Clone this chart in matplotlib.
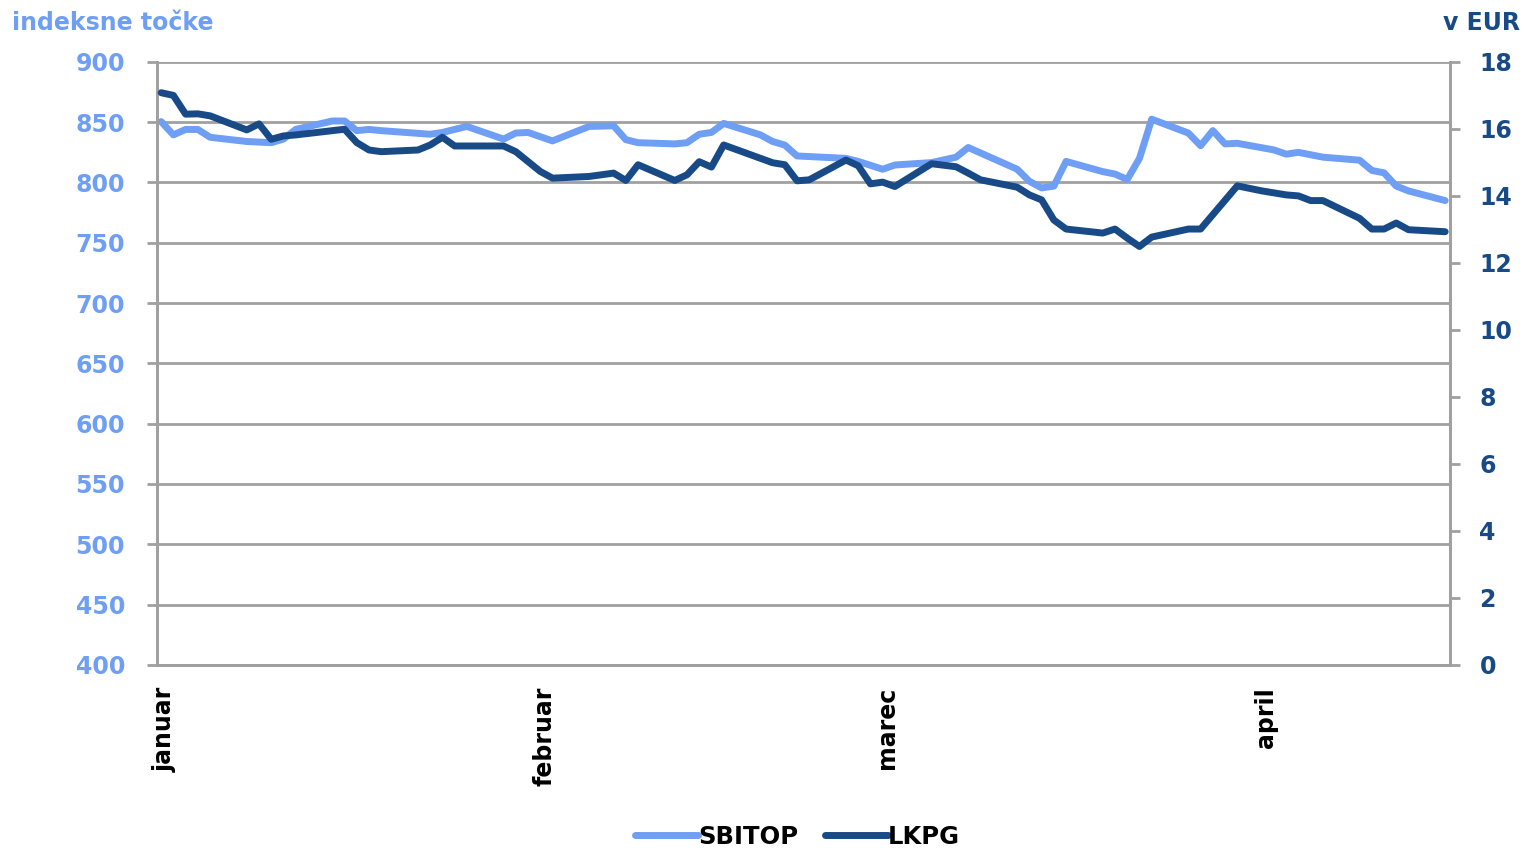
import matplotlib.pyplot as plt
import matplotlib.transforms as mtransforms
import pandas as pd

# Colours
SBITOP_COLOR = '#6F9EF5'
LKPG_COLOR = '#174A87'
GRID_COLOR = '#A0A0A0'

YEAR = '2011'

# SBITOP (left axis, index points)
sbitop_dates = ['01-01', '01-02', '01-03', '01-04', '01-05', '01-08', '01-10', '01-11',
                '01-12', '01-15', '01-16', '01-17', '01-18', '01-19', '01-23', '01-24',
                '01-26', '01-29', '01-30', '01-31', '02-02', '02-05', '02-07', '02-08',
                '02-09', '02-12', '02-13', '02-14', '02-15', '02-16', '02-19', '02-20',
                '02-21', '02-22', '02-23', '02-26', '02-27', '03-01', '03-02', '03-05',
                '03-07', '03-08', '03-12', '03-13', '03-14', '03-15', '03-16', '03-19',
                '03-20', '03-21', '03-22', '03-23', '03-26', '03-27', '03-28', '03-29',
                '03-30', '04-02', '04-03', '04-04', '04-06', '04-09', '04-10', '04-11',
                '04-12', '04-13', '04-16']
sbitop_values = [850.5, 839.5, 844, 844, 837.5, 834, 833, 836,
                 844, 851, 851, 843, 844, 843, 840, 841.5,
                 846.5, 836, 841, 841.5, 834.5, 846.5, 847, 835.5,
                 833, 832, 833, 840, 841.5, 849, 839.5, 834,
                 831, 822, 821.5, 820, 817.5, 811, 814.5, 816.5,
                 821, 829, 811, 801, 795.5, 797, 817.5, 809,
                 807, 802.5, 820, 852.5, 841, 830.5, 843, 832,
                 832.5, 827, 823.5, 825, 821, 818.5, 810, 808,
                 797, 793, 785]

# LKPG (right axis, EUR)
lkpg_dates = ['01-01', '01-02', '01-03', '01-04', '01-05', '01-08', '01-09', '01-10',
              '01-11', '01-12', '01-16', '01-17', '01-18', '01-19', '01-22', '01-23',
              '01-24', '01-25', '01-29', '01-30', '02-01', '02-02', '02-05', '02-07',
              '02-08', '02-09', '02-12', '02-13', '02-14', '02-15', '02-16', '02-20',
              '02-21', '02-22', '02-23', '02-26', '02-27', '02-28', '03-01', '03-02',
              '03-05', '03-07', '03-08', '03-09', '03-12', '03-13', '03-14', '03-15',
              '03-16', '03-19', '03-20', '03-21', '03-22', '03-23', '03-26', '03-27',
              '03-30', '04-01', '04-03', '04-04', '04-05', '04-06', '04-09', '04-10',
              '04-11', '04-12', '04-13', '04-16']
lkpg_values = [17.08, 17.0, 16.44, 16.45, 16.39, 15.97, 16.15, 15.69,
               15.79, 15.82, 15.99, 15.59, 15.37, 15.32, 15.37, 15.52,
               15.75, 15.49, 15.49, 15.32, 14.73, 14.53, 14.58, 14.68,
               14.46, 14.93, 14.46, 14.63, 15.02, 14.86, 15.52, 14.99,
               14.93, 14.45, 14.48, 15.07, 14.90, 14.36, 14.41, 14.28,
               14.96, 14.87, 14.68, 14.48, 14.26, 14.03, 13.88, 13.28,
               13.01, 12.89, 13.01, 12.74, 12.49, 12.77, 13.01, 13.01,
               14.30, 14.15, 14.03, 14.00, 13.86, 13.86, 13.33, 13.01,
               13.01, 13.19, 12.99, 12.93]

month_ticks = ['01-01', '02-01', '03-01', '04-01']
month_labels = ['januar', 'februar', 'marec', 'april']


def to_dates(mmdd):
    return pd.to_datetime([YEAR + '-' + d for d in mmdd])


plt.rcParams['font.family'] = ['DejaVu Sans']
plt.rcParams['font.weight'] = 'bold'

fig = plt.figure(figsize=(15.25, 8.48), dpi=100, facecolor='white')
ax = fig.add_axes([0.103, 0.216, 0.848, 0.711])
ax2 = ax.twinx()

line1, = ax.plot(to_dates(sbitop_dates), sbitop_values, color=SBITOP_COLOR,
                 linewidth=5, solid_joinstyle='round', solid_capstyle='round',
                 label='SBITOP', zorder=3)
line2, = ax2.plot(to_dates(lkpg_dates), lkpg_values, color=LKPG_COLOR,
                  linewidth=5, solid_joinstyle='round', solid_capstyle='round',
                  label='LKPG', zorder=3)

start = pd.Timestamp(YEAR + '-01-01') - pd.Timedelta(hours=8)
end = pd.Timestamp(YEAR + '-04-16') + pd.Timedelta(hours=10)
ax.set_xlim(start, end)

ax.set_ylim(400, 900)
ax.set_yticks(range(400, 901, 50))
ax2.set_ylim(0, 18)
ax2.set_yticks(range(0, 19, 2))

ax.grid(axis='y', color=GRID_COLOR, linewidth=2)
ax.set_axisbelow(True)

ax.set_xticks(to_dates(month_ticks))
ax.set_xticklabels(month_labels, rotation=90, fontsize=17, fontweight='bold', color='black')
ax.tick_params(axis='x', length=0, pad=16)
# nudge month labels a little to the right, as in the reference
shift = mtransforms.ScaledTranslation(4 / 100, 0, fig.dpi_scale_trans)
for lab in ax.get_xticklabels():
    lab.set_transform(lab.get_transform() + shift)

ax.tick_params(axis='y', colors=SBITOP_COLOR, labelsize=17, length=7, width=2,
               color=GRID_COLOR, pad=16)
ax2.tick_params(axis='y', colors=LKPG_COLOR, labelsize=17, length=7, width=2,
                color=GRID_COLOR, pad=14)
for lab in ax.get_yticklabels():
    lab.set_fontweight('bold')
for lab in ax2.get_yticklabels():
    lab.set_fontweight('bold')

for a in (ax, ax2):
    a.spines['top'].set_visible(False)
    for s in ('left', 'right', 'bottom'):
        a.spines[s].set_color(GRID_COLOR)
        a.spines[s].set_linewidth(2)

fig.text(0.008, 0.973, 'indeksne točke', color=SBITOP_COLOR, fontsize=17,
         fontweight='bold', ha='left', va='center')
fig.text(0.997, 0.973, 'v EUR', color=LKPG_COLOR, fontsize=17,
         fontweight='bold', ha='right', va='center')

fig.legend(handles=[line1, line2], loc='center', bbox_to_anchor=(0.523, 0.013),
           ncol=2, frameon=False, handlelength=2.6, handletextpad=0.0,
           columnspacing=1.1, prop={'weight': 'bold', 'size': 17.5})

fig.savefig('out.png', dpi=100, facecolor='white')
